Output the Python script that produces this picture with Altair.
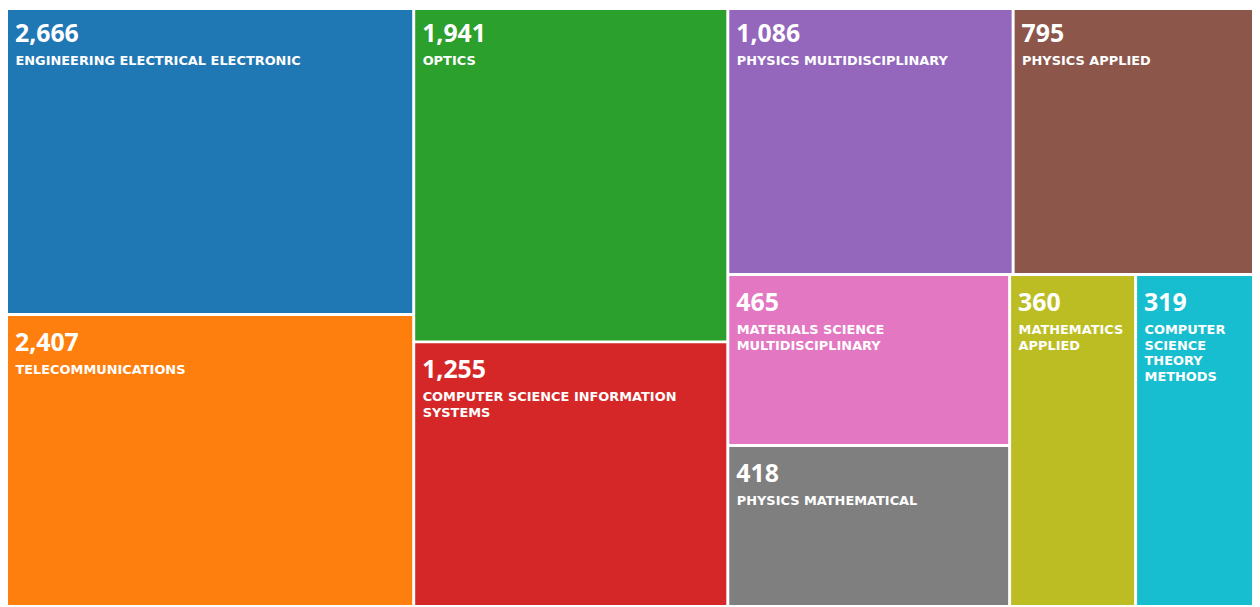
import altair as alt
import pandas as pd

# ---- data ----
categories = [
    "ENGINEERING ELECTRICAL ELECTRONIC",
    "TELECOMMUNICATIONS",
    "OPTICS",
    "COMPUTER SCIENCE INFORMATION SYSTEMS",
    "PHYSICS MULTIDISCIPLINARY",
    "PHYSICS APPLIED",
    "MATERIALS SCIENCE MULTIDISCIPLINARY",
    "PHYSICS MATHEMATICAL",
    "MATHEMATICS APPLIED",
    "COMPUTER SCIENCE THEORY METHODS",
]
records = [2666, 2407, 1941, 1255, 1086, 795, 465, 418, 360, 319]

# ---- layout settings ----
PW, PH = 1252, 599        # plot size in px (fills the window)
OFFSET = 3                # reference tiles start 3px above the page margin
W, H = PW, PH + OFFSET    # treemap size in layout units (1 unit = 1 px)
GAP = 3                   # white gap between tiles
SIZE_EXP = 0.55           # tile area grows sub-linearly with the count (as in the reference)
RATIO = 1.45              # target aspect ratio of the squarified layout
LABEL_SIZE = 13
NUM_SIZE = 25
CHAR_W = 9.0


def squarify(weights, x0, y0, x1, y1, ratio):
    """d3-style squarified treemap layout."""
    n = len(weights)
    rects = [None] * n
    value = float(sum(weights))
    i0 = i1 = 0
    while i0 < n:
        dx, dy = x1 - x0, y1 - y0
        sum_v = weights[i1]
        i1 += 1
        min_v = max_v = sum_v
        alpha = max(dy / dx, dx / dy) / (value * ratio)
        beta = sum_v * sum_v * alpha
        min_ratio = max(max_v / beta, beta / min_v)
        while i1 < n:
            nv = weights[i1]
            s = sum_v + nv
            mn, mx = min(min_v, nv), max(max_v, nv)
            beta = s * s * alpha
            new_ratio = max(mx / beta, beta / mn)
            if new_ratio > min_ratio:
                break
            sum_v, min_v, max_v, min_ratio = s, mn, mx, new_ratio
            i1 += 1
        idx = range(i0, i1)
        if dx < dy:  # horizontal row across the top
            ny = y0 + dy * sum_v / value if i1 < n else y1
            xx = x0
            for i in idx:
                w = dx * weights[i] / sum_v
                rects[i] = (xx, y0, xx + w, ny)
                xx += w
            y0 = ny
        else:        # vertical column on the left
            nx = x0 + dx * sum_v / value if i1 < n else x1
            yy = y0
            for i in idx:
                h = dy * weights[i] / sum_v
                rects[i] = (x0, yy, nx, yy + h)
                yy += h
            x0 = nx
        value -= sum_v
        i0 = i1
    return rects


def wrap(text, width):
    avail = width - 14
    lines, cur = [], ""
    for word in text.split(" "):
        cand = word if not cur else cur + " " + word
        if cur and len(cand) * CHAR_W > avail:
            lines.append(cur)
            cur = word
        else:
            cur = cand
    lines.append(cur)
    return "\n".join(lines)


weights = [v ** SIZE_EXP for v in records]
g = GAP / 2
tiles = squarify(weights, -g, -g, W + g, H + g, RATIO)

rows = []
for cat, val, (a, b, c, d) in zip(categories, records, tiles):
    rows.append({
        "category": cat, "value": val,
        "x0": a + g, "x1": c - g, "y0": b + g, "y1": d - g,
        "label": wrap(cat, c - a),
    })
df = pd.DataFrame(rows)

xs = alt.Scale(domain=[0, W], nice=False, zero=False)
ys = alt.Scale(domain=[OFFSET, H], nice=False, zero=False, reverse=True)

base = alt.Chart(df)

tiles_layer = base.mark_rect(clip=True).encode(
    x=alt.X("x0:Q", scale=xs, axis=None),
    x2="x1:Q",
    y=alt.Y("y0:Q", scale=ys, axis=None),
    y2="y1:Q",
    color=alt.Color("category:N", scale=alt.Scale(domain=categories, scheme="category10"), legend=None),
)

num_layer = base.mark_text(
    align="left", baseline="top", dx=7, dy=15,
    font="Open Sans", fontWeight="bold", fontSize=NUM_SIZE, color="white", clip=True,
).encode(
    x=alt.X("x0:Q", scale=xs, axis=None),
    y=alt.Y("y0:Q", scale=ys, axis=None),
    text=alt.Text("value:Q", format=","),
)

label_layer = base.mark_text(
    align="left", baseline="top", dx=7.5, dy=48, lineBreak="\n", lineHeight=16,
    font="DejaVu Sans", fontWeight="bold", fontSize=LABEL_SIZE, color="white", clip=True,
).encode(
    x=alt.X("x0:Q", scale=xs, axis=None),
    y=alt.Y("y0:Q", scale=ys, axis=None),
    text="label:N",
)

chart = (
    alt.layer(tiles_layer, num_layer, label_layer)
    .properties(width=PW, height=PH, padding=0,
                autosize=alt.AutoSizeParams(type="none"), background="white")
    .configure_view(strokeWidth=0)
)

chart.save("out.html", embed_options={"renderer": "svg", "actions": False})
